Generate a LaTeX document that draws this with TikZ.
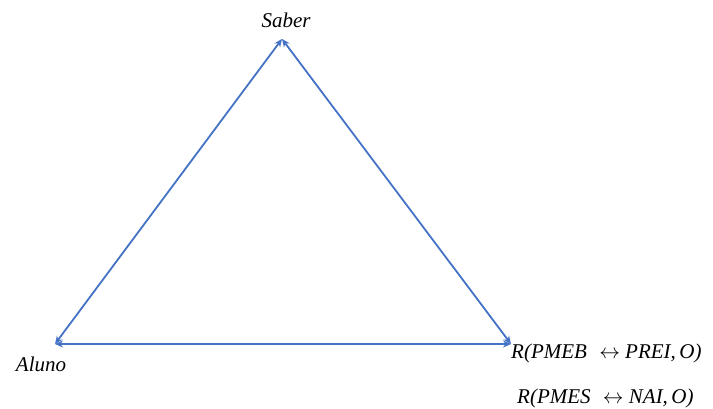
\documentclass[tikz,border=0pt]{standalone}
\usepackage{fontspec}
\setmainfont{Liberation Serif}
\usetikzlibrary{arrows.meta}
\definecolor{lineblue}{HTML}{4472C4}
\begin{document}
\begin{tikzpicture}[x=1pt,y=1pt,
  edge/.style={draw=lineblue, line width=1.8pt, {Stealth[length=8pt,width=7pt]}-{Stealth[length=8pt,width=7pt]}},
  lbl/.style={font=\fontsize{21}{24}\selectfont\itshape, inner sep=0pt}]
\useasboundingbox (0,0) rectangle (713,408);
\coordinate (S) at (282,369);
\coordinate (A) at (55,64);
\coordinate (R) at (511,64);
\draw[edge] (A) -- (S);
\draw[edge] (S) -- (R);
\draw[edge] (A) -- (R);
\node[lbl] (ls) at (286,388) {Saber};
\node[lbl] (la) at (41,44) {Aluno};
\node[lbl, anchor=west] (lr1) at (511,55) {R(PMEB\,\, $\leftrightarrow$ PREI,\,O)};
\node[lbl, anchor=west] (lr2) at (517,10) {R(PMES\,\, $\leftrightarrow$ NAI,\,O)};
\end{tikzpicture}
\end{document}
